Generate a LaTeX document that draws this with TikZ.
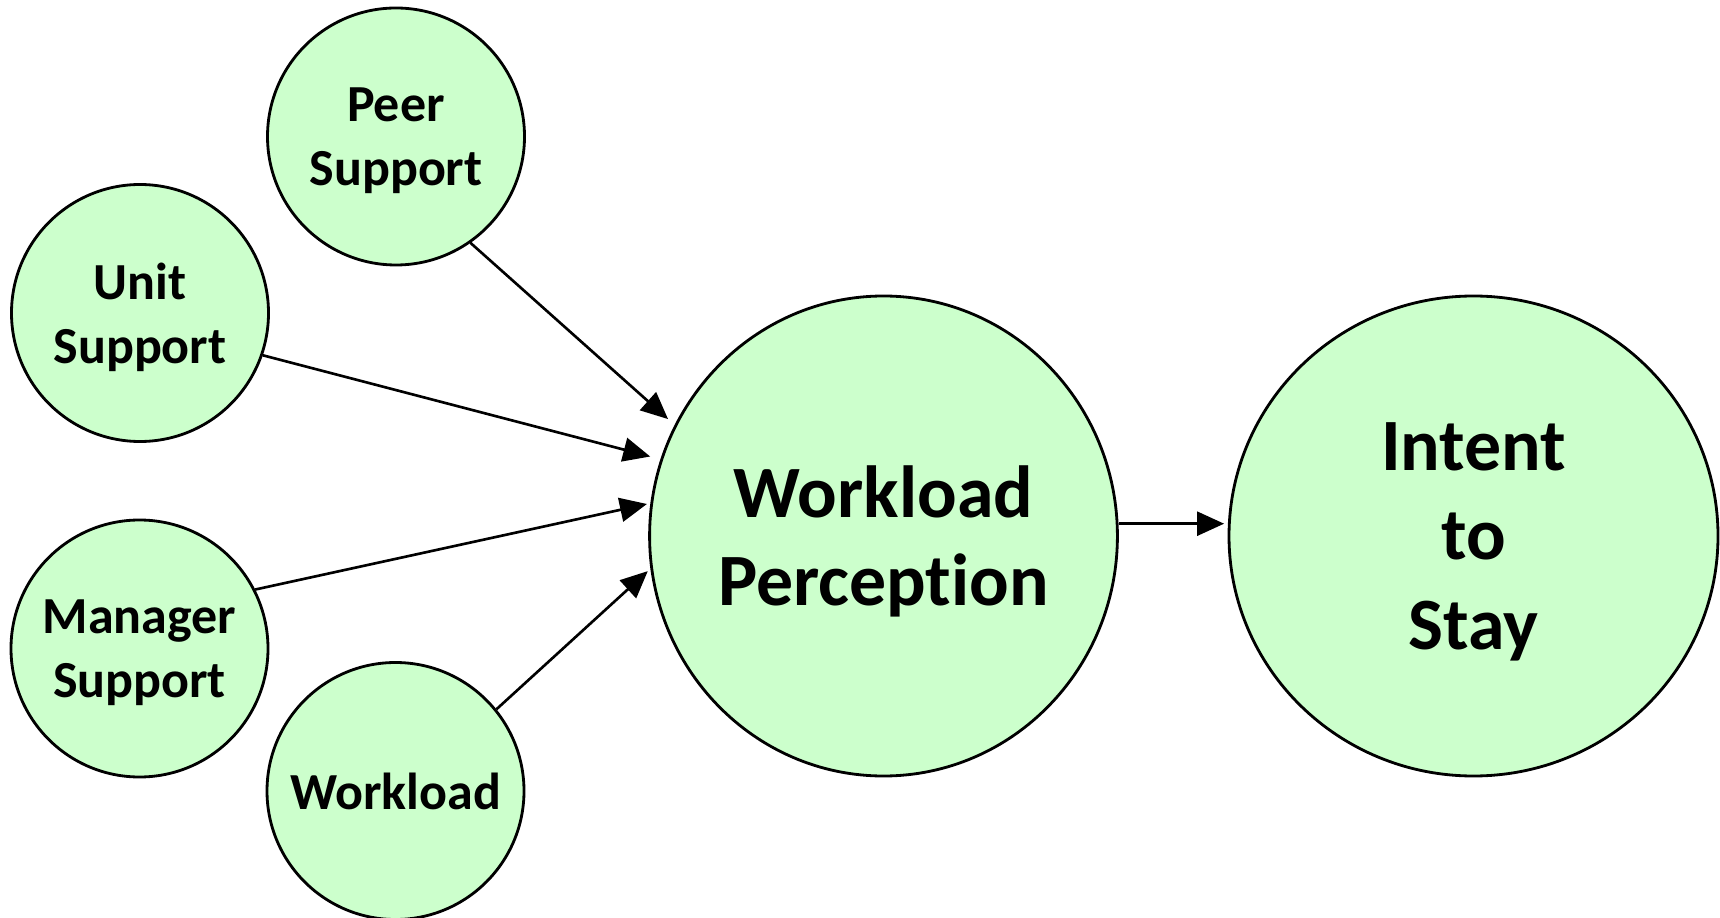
\documentclass[tikz,border=0pt]{standalone}
\usepackage{fontspec}
\setmainfont{Carlito}[Ligatures=NoCommon]
\usepackage{xcolor}
\usepackage{tikz}
\usetikzlibrary{shapes,arrows.meta,calc,positioning}
\definecolor{nodegreen}{HTML}{CCFFCC}
\tikzstyle{arrow} = [draw, line width=0.75pt, -{Triangle[length=2.7mm,width=2.4mm]}]
\tikzstyle{factor} = [circle, draw, line width=0.8pt, fill=nodegreen, inner sep=0pt, text depth=0pt,
  minimum size=25.7mm, align=center, font={\fontsize{14.8}{18.2}\selectfont\bfseries}]
\tikzstyle{outcome} = [ellipse, draw, line width=0.8pt, fill=nodegreen, inner sep=0pt, text depth=0pt,
  align=center, minimum height=48mm, font={\fontsize{21}{25}\selectfont\bfseries}]

\begin{document}
\begin{tikzpicture}[
      x=0.1mm, y=-0.1mm,
      shorten >=1pt,
      node distance = 59mm
    ]
      \useasboundingbox (0,0) rectangle (1720,918);

      \node[outcome, minimum width=46.4mm] (wPerc) at (883.5,536) {Workload\\Perception};
      \node[outcome, minimum width=48.9mm,
            font={\fontsize{21}{25.4}\selectfont\bfseries}] (intent) [right of=wPerc] {Intent\\to\\Stay};
      \node[factor] (peer)     at (396,136.5)   {Peer\\Support};
      \node[factor] (unit)     at (140,313)     {Unit\\Support};
      \node[factor] (manager)  at (139.5,648.5) {Manager\\Support};
      \node[factor] (workload) at (395.5,791)   {Workload};

      \draw[arrow, shorten >=2.5pt] (peer.-55)     -- (wPerc.152.5);
      \draw[arrow, shorten >=3pt]   (unit.-19)     -- (wPerc.161);
      \draw[arrow]                  (manager.27.7) -- (wPerc.172.4);
      \draw[arrow]                  (workload.39)  -- (wPerc.188.1);
      \draw[arrow]                  (wPerc.3.6)    -- (wPerc.3.6 -| intent.west);
    \end{tikzpicture}
\end{document}
